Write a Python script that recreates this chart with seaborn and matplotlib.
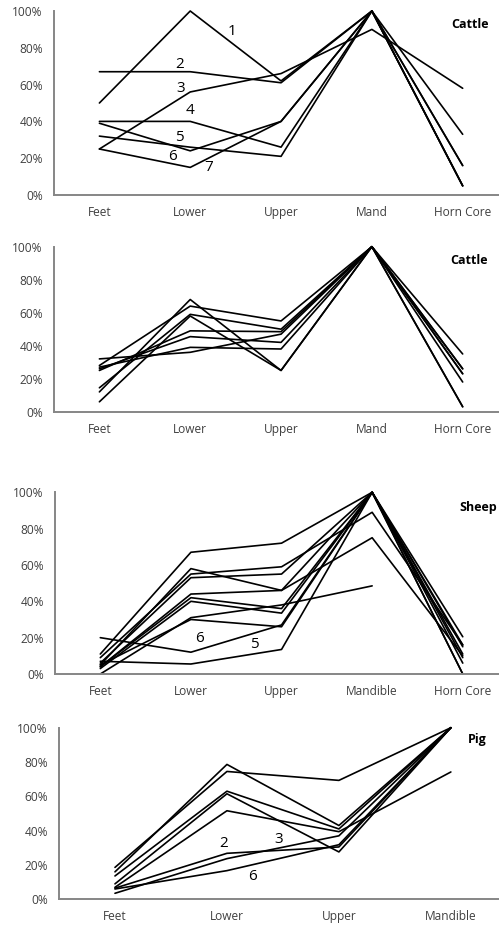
import numpy as np
import pandas as pd
import matplotlib
matplotlib.use("Agg")
import matplotlib.pyplot as plt
import seaborn as sns
from matplotlib.ticker import PercentFormatter, FixedLocator

# categories
cats5 = ["Feet", "Lower", "Upper", "Mand", "Horn Core"]
cats5_sheep = ["Feet", "Lower", "Upper", "Mandible", "Horn Core"]
cats4 = ["Feet", "Lower", "Upper", "Mandible"]

# panel 1: cattle (numbered sites)
cattle1 = {
    "1": [0.50, 1.00, 0.62, 1.00, 0.33],
    "2": [0.67, 0.67, 0.61, 1.00, 0.16],
    "3": [0.25, 0.56, 0.66, 0.90, 0.58],
    "4": [0.40, 0.40, 0.26, 1.00, 0.05],
    "5": [0.39, 0.24, 0.40, 1.00, 0.05],
    "6": [0.32, 0.26, 0.21, 1.00, 0.16],
    "7": [0.25, 0.15, 0.40, 1.00, 0.05],
}
cattle1_labels = [("1", 1.46, 0.89), ("2", 0.88, 0.71), ("3", 0.90, 0.58),
                  ("4", 1.00, 0.46), ("5", 0.88, 0.315), ("6", 0.81, 0.207),
                  ("7", 1.20, 0.147)]

# panel 2: cattle
cattle2 = {
    "A": [0.06, 0.58, 0.25, 1.00, 0.03],
    "B": [0.12, 0.68, 0.25, 1.00, 0.03],
    "C": [0.145, 0.59, 0.50, 1.00, 0.23],
    "D": [0.28, 0.64, 0.55, 1.00, 0.35],
    "E": [0.25, 0.49, 0.485, 1.00, 0.26],
    "F": [0.26, 0.455, 0.42, 1.00, 0.18],
    "G": [0.32, 0.36, 0.47, 1.00, 0.26],
    "H": [0.27, 0.39, 0.38, 1.00, 0.23],
}

# panel 3: sheep
sheep = {
    "S1": [0.11, 0.67, 0.72, 1.00, 0.205],
    "S2": [0.09, 0.55, 0.59, 0.89, 0.16],
    "S3": [0.06, 0.53, 0.55, 1.00, 0.15],
    "S4": [0.05, 0.58, 0.46, 1.00, 0.11],
    "S5": [0.04, 0.44, 0.46, 0.75, 0.10],
    "S6": [0.04, 0.42, 0.36, 1.00, 0.06],
    "S7": [0.03, 0.40, 0.335, 1.00, 0.16],
    "S8": [0.00, 0.31, 0.38, 0.485, np.nan],
    "S9": [0.05, 0.30, 0.26, 1.00, 0.00],
    "S10": [0.20, 0.12, 0.27, 1.00, 0.09],
    "S11": [0.07, 0.055, 0.135, 1.00, 0.00],
}
sheep_labels = [("6", 1.09, 0.198), ("5", 1.70, 0.16)]

# panel 4: pig
pig = {
    "P1": [0.186, 0.745, 0.693, 1.00],
    "P2": [0.16, 0.786, 0.43, 1.00],
    "P3": [0.136, 0.63, 0.41, 1.00],
    "P4": [0.09, 0.615, 0.276, 1.00],
    "P5": [0.07, 0.516, 0.394, 0.742],
    "P6": [0.065, 0.268, 0.305, 1.00],
    "P7": [0.035, 0.237, 0.37, 1.00],
    "P8": [0.06, 0.167, 0.318, 1.00],
}
pig_labels = [("2", 0.97, 0.328), ("3", 1.46, 0.351), ("6", 1.23, 0.13)]

sns.set_style("white")
plt.rcParams["font.family"] = ["Open Sans", "DejaVu Sans"]

W, H = 499, 925
fig = plt.figure(figsize=(W / 100, H / 100), dpi=100)

axis_gray = "#868686"
text_gray = "#404040"


def to_long(series):
    rows = []
    for name, vals in series.items():
        for i, v in enumerate(vals):
            rows.append({"site": name, "pos": i, "value": v})
    return pd.DataFrame(rows).dropna()


def draw_panel(rect, series, cats, xmax, title, title_xy, labels=None):
    ax = fig.add_axes(rect)
    df = to_long(series)
    sns.lineplot(data=df, x="pos", y="value", hue="site", units="site",
                 estimator=None, sort=False, palette=["black"] * len(series),
                 linewidth=1.2, legend=False, ax=ax)
    ax.set_xlim(-0.5, xmax)
    ax.set_ylim(0, 1)
    ax.set_xlabel("")
    ax.set_ylabel("")
    for s in ["top", "right"]:
        ax.spines[s].set_visible(False)
    for s in ["left", "bottom"]:
        ax.spines[s].set_color(axis_gray)
        ax.spines[s].set_linewidth(1.4)
    ax.set_yticks(np.arange(0, 1.01, 0.2))
    ax.yaxis.set_major_formatter(PercentFormatter(1.0, decimals=0))
    ax.tick_params(axis="y", direction="out", length=3, width=1, color=axis_gray,
                   labelsize=8.6, labelcolor=text_gray, pad=5)
    ax.set_xticks(range(len(cats)))
    ax.set_xticklabels(cats)
    ax.tick_params(axis="x", which="major", length=0, labelsize=8.6,
                   labelcolor=text_gray, pad=8)
    ax.xaxis.set_minor_locator(FixedLocator(np.arange(-0.5, len(cats), 1.0)))
    ax.tick_params(axis="x", which="minor", direction="out", length=3, width=1,
                   color=axis_gray)
    ax.grid(False)
    for line in ax.lines:
        line.set_clip_on(False)
    if labels:
        for txt, x, y in labels:
            ax.text(x, y, txt, fontsize=11, color="black", ha="center", va="center")
    fig.text(title_xy[0] / W, 1 - title_xy[1] / H, title, fontsize=9,
             fontweight="bold", ha="center", va="center", color="black")
    return ax


draw_panel([54 / W, (H - 195) / H, (W - 54) / W, 184 / H], cattle1, cats5, 4.40,
           "Cattle", (470, 25), cattle1_labels)
draw_panel([54 / W, (H - 411.7) / H, (W - 54) / W, 165 / H], cattle2, cats5, 4.40,
           "Cattle", (469, 261))
draw_panel([55 / W, (H - 674) / H, (W - 55) / W, 181.7 / H], sheep, cats5_sheep, 4.40,
           "Sheep", (478, 507), sheep_labels)
draw_panel([59 / W, (H - 899.3) / H, (W - 59) / W, 171.6 / H], pig, cats4, 3.43,
           "Pig", (477, 739), pig_labels)

fig.savefig("out.png", dpi=100)
